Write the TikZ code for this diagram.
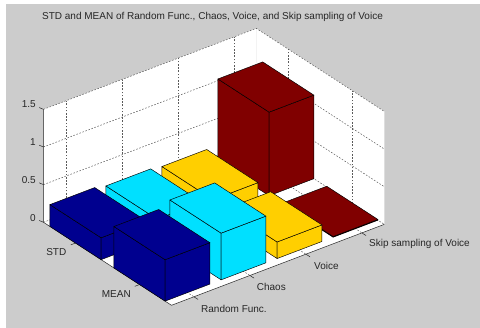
\documentclass[tikz,border=0pt]{standalone}
\usepackage{fontspec}
\setmainfont{Liberation Sans}
\definecolor{bgray}{RGB}{204,204,204}
\definecolor{cblue}{RGB}{0,0,143}
\definecolor{ccyan}{RGB}{0,224,255}
\definecolor{cyellow}{RGB}{255,207,0}
\definecolor{cred}{RGB}{128,0,0}
\definecolor{gridc}{RGB}{90,90,90}
\tikzset{
  barface/.style={draw=black,line width=0.45pt,line join=round},
  gridline/.style={draw=gridc,line width=0.5pt,dash pattern=on 1.6pt off 1.6pt},
  axisline/.style={draw=black!85,line width=0.5pt},
  ticklab/.style={text=black!85,inner sep=0pt,font=\fontsize{10}{12}\selectfont}
}
\newcommand{\mybar}[4]{%
  \filldraw[barface,fill=#4] (#1-0.4,#2-0.4,0) -- (#1+0.4,#2-0.4,0) -- (#1+0.4,#2-0.4,#3) -- (#1-0.4,#2-0.4,#3) -- cycle;
  \filldraw[barface,fill=#4] (#1+0.4,#2-0.4,0) -- (#1+0.4,#2+0.4,0) -- (#1+0.4,#2+0.4,#3) -- (#1+0.4,#2-0.4,#3) -- cycle;
  \filldraw[barface,fill=#4] (#1-0.4,#2-0.4,#3) -- (#1+0.4,#2-0.4,#3) -- (#1+0.4,#2+0.4,#3) -- (#1-0.4,#2+0.4,#3) -- cycle;
}
\begin{document}
\begin{tikzpicture}[x=1pt,y=1pt]
\useasboundingbox (0,0) rectangle (480,328);
\fill[bgray] (0,0) rectangle (480,328);
\fill[white] (0,0) rectangle (6,328);
\fill[white] (0,324) rectangle (480,328);
\begin{scope}[x={(64pt,-41.5pt)}, y={(56pt,21.3pt)}, z={(0pt,75.3pt)}, shift={(-22.1pt,113.67pt)}]
  % walls and floor
  \fill[white] (0.5,0.6,0) -- (0.5,4.4,0) -- (0.5,4.4,1.5) -- (0.5,0.6,1.5) -- cycle;
  \fill[white] (0.5,4.4,0) -- (2.5,4.4,0) -- (2.5,4.4,1.5) -- (0.5,4.4,1.5) -- cycle;
  \fill[white] (0.5,0.6,0) -- (2.5,0.6,0) -- (2.5,4.4,0) -- (0.5,4.4,0) -- cycle;
  % grid
  \foreach \zz in {0,0.5,1,1.5}
    \draw[gridline] (0.5,0.6,\zz) -- (0.5,4.4,\zz) -- (2.5,4.4,\zz);
  \foreach \vv in {1,2,3,4} {
    \draw[gridline] (0.5,\vv,0) -- (0.5,\vv,1.5);
    \draw[gridline] (0.5,\vv,0) -- (2.5,\vv,0);
  }
  \foreach \uu in {1,2} {
    \draw[gridline] (\uu,4.4,0) -- (\uu,4.4,1.5);
    \draw[gridline] (\uu,0.6,0) -- (\uu,4.4,0);
  }
  % axes
  \draw[axisline] (0.5,0.6,1.5) -- (0.5,0.6,0) -- (2.5,0.6,0) -- (2.5,4.4,0);
  \foreach \zz in {0,0.5,1,1.5}
    \draw[axisline] (0.5,0.6,\zz) -- ++(-4.3pt,1.8pt);
  \foreach \uu in {1,2}
    \draw[axisline] (\uu,0.6,0) -- ++(-4.7pt,-1.8pt);
  \foreach \vv in {1,2,3,4}
    \draw[axisline] (2.5,\vv,0) -- ++(4.2pt,-2.7pt);
  % bars, back to front
  \mybar{1}{4}{1.11}{cred}
  \mybar{2}{4}{0.01}{cred}
  \mybar{1}{3}{0.23}{cyellow}
  \mybar{2}{3}{0.22}{cyellow}
  \mybar{1}{2}{0.255}{ccyan}
  \mybar{2}{2}{0.62}{ccyan}
  \mybar{1}{1}{0.29}{cblue}
  \mybar{2}{1}{0.55}{cblue}
\end{scope}
% labels
\node[ticklab] (title) at (212.5,311) {STD and MEAN of Random Func., Chaos, Voice, and Skip sampling of Voice};
\node[ticklab,anchor=east] (z15) at (36,223.5) {1.5};
\node[ticklab,anchor=east] (z10) at (36,185.8) {1};
\node[ticklab,anchor=east] (z05) at (36,148.2) {0.5};
\node[ticklab,anchor=east] (z00) at (36,110.4) {0};
\node[ticklab,anchor=east] (lstd) at (66.5,75.7) {STD};
\node[ticklab,anchor=east] (lmean) at (131,33.7) {MEAN};
\node[ticklab,anchor=west] (lrand) at (201,18.7) {Random Func.};
\node[ticklab,anchor=west] (lchaos) at (256.7,40.7) {Chaos};
\node[ticklab,anchor=west] (lvoice) at (314,62.3) {Voice};
\node[ticklab,anchor=west] (lskip) at (369,84) {Skip sampling of Voice};
\end{tikzpicture}
\end{document}
